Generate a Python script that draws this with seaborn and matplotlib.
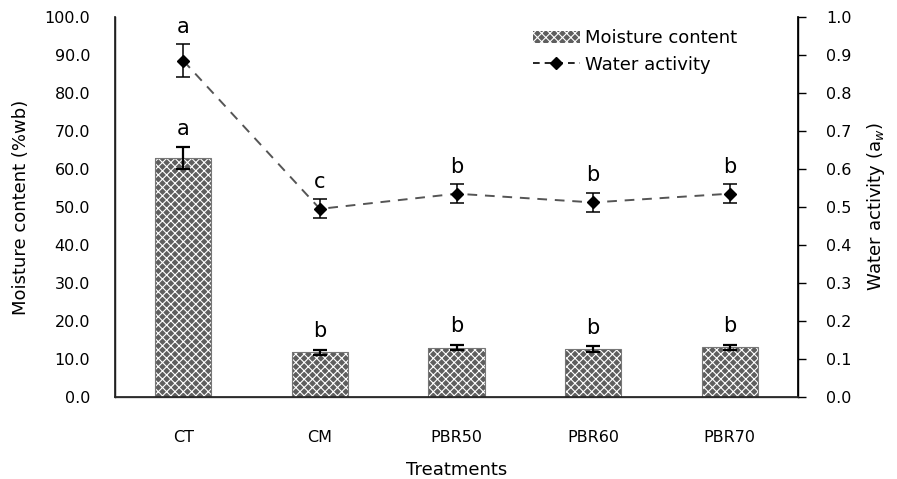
import matplotlib
matplotlib.use("Agg")
import matplotlib.pyplot as plt
import seaborn as sns
import numpy as np
import pandas as pd

treatments = ["CT", "CM", "PBR50", "PBR60", "PBR70"]
moisture = [62.8, 11.8, 13.0, 12.6, 13.1]
moisture_err = [2.9, 0.7, 0.7, 0.7, 0.7]
moisture_letters = ["a", "b", "b", "b", "b"]
aw = [0.885, 0.495, 0.535, 0.512, 0.535]
aw_err = [0.043, 0.025, 0.025, 0.025, 0.025]
aw_letters = ["a", "c", "b", "b", "b"]

sns.set_theme(style="white")
plt.rcParams['font.family'] = ['DejaVu Sans']
plt.rcParams['hatch.linewidth'] = 0.8
plt.rcParams['text.color'] = 'black'
plt.rcParams['axes.labelcolor'] = 'black'
plt.rcParams['xtick.color'] = 'black'
plt.rcParams['ytick.color'] = 'black'

fig = plt.figure(figsize=(8.97, 4.79), dpi=100)
ax = fig.add_axes([115/897, 82/479, 683/897, 380/479])

df = pd.DataFrame({"Treatments": treatments, "Moisture": moisture})
sns.barplot(data=df, x="Treatments", y="Moisture", ax=ax, width=0.41,
            color="#5a5a5a", errorbar=None, saturation=1, zorder=2)
for p in ax.patches:
    p.set_hatch("xxxx")
    p.set_edgecolor("white")
    p.set_linewidth(0)
    p.set_facecolor("#5e5e5e")
for p in list(ax.patches):
    ax.add_patch(plt.Rectangle(p.get_xy(), p.get_width(), p.get_height(),
                               fill=False, edgecolor="#777777", linewidth=0.8, zorder=2.5))
xs = np.arange(len(treatments))
ax.errorbar(xs, moisture, yerr=moisture_err, fmt="none", ecolor="black",
            elinewidth=1.6, capsize=5, capthick=1.6, zorder=3)
for x, m, e, t in zip(xs, moisture, moisture_err, moisture_letters):
    ax.text(x, m + e + 2.3, t, ha="center", va="bottom", fontsize=15)

ax.set_xlim(-0.5, 4.5)
ax.set_ylim(0, 100)
ax.set_yticks(np.arange(0, 101, 10))
ax.set_yticklabels([f"{v:.1f}" for v in np.arange(0, 101, 10)], fontsize=11.5)
ax.tick_params(axis="y", length=0, pad=18)
ax.tick_params(axis="x", length=0, pad=24, labelsize=11.5)
ax.set_xlabel("Treatments", fontsize=13, labelpad=11)
ax.set_ylabel("Moisture content (%wb)", fontsize=13, labelpad=10)
ax.spines["top"].set_visible(False)
for s in ["left", "bottom", "right"]:
    ax.spines[s].set_color("black")
    ax.spines[s].set_linewidth(1.0)
ax.spines["bottom"].set_color("#555555")

ax2 = ax.twinx()
ax2.plot(xs, aw, linestyle=(0, (5, 4)), color="#555555", linewidth=1.4,
         marker="D", markersize=6, markerfacecolor="black",
         markeredgecolor="black", zorder=3)
ax2.errorbar(xs, aw, yerr=aw_err, fmt="none", ecolor="black",
             elinewidth=1.1, capsize=5, capthick=1.1, zorder=3)
for x, a, e, t in zip(xs, aw, aw_err, aw_letters):
    ax2.text(x, a + e + 0.02, t, ha="center", va="bottom", fontsize=15)
ax2.set_ylim(0, 1.0)
ax2.set_yticks(np.arange(0, 1.01, 0.1))
ax2.set_yticklabels([f"{v:.1f}" for v in np.arange(0, 1.01, 0.1)], fontsize=11.5)
ax2.tick_params(axis="y", length=6, width=1, direction="out", pad=14, color="black")
ax2.set_ylabel("Water activity (a$_{w}$)", fontsize=13, labelpad=10)
ax2.spines["top"].set_visible(False)
ax2.spines["right"].set_color("black")
ax2.grid(False)
ax.grid(False)

from matplotlib.patches import Patch
from matplotlib.lines import Line2D
h1 = Patch(facecolor="#5e5e5e", edgecolor="white", hatch="xxxx", linewidth=0)
h2 = Line2D([0], [0], linestyle=(0, (4, 3)), color="black", linewidth=1.2,
            marker="D", markersize=6, markerfacecolor="black")
ax2.legend([h1, h2], ["Moisture content", "Water activity"], loc="upper right",
           bbox_to_anchor=(0.935, 1.01), frameon=False, fontsize=13,
           handlelength=2.6, handletextpad=0.3, labelspacing=0.45)

fig.savefig("out.png", dpi=100)
